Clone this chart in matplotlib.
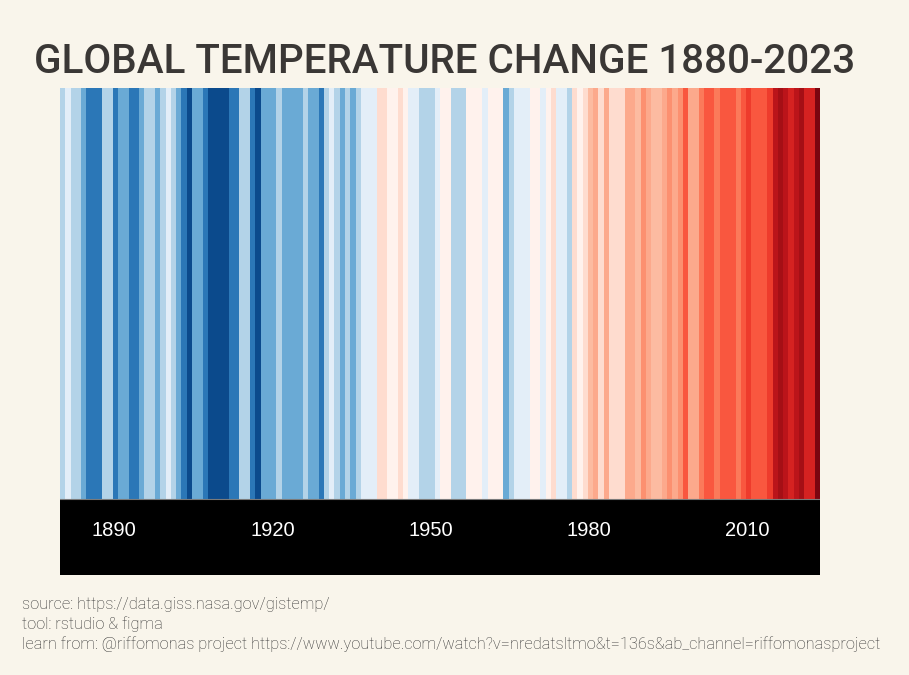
"""Warming stripes: global temperature change 1880-2023 -> out.png"""
import matplotlib
matplotlib.use("Agg")
import matplotlib.pyplot as plt
from matplotlib.colors import ListedColormap, BoundaryNorm
import numpy as np

# ── data (GISTEMP annual anomaly, °C vs 1951-1980) ───────────────────────────
YEARS = list(range(1880, 2024))
ANOMALY = [
    -0.17, -0.09, -0.11, -0.17, -0.28, -0.33, -0.31, -0.36, -0.18, -0.11,   # 1880s
    -0.35, -0.22, -0.27, -0.31, -0.31, -0.23, -0.11, -0.11, -0.27, -0.17,   # 1890s
    -0.08, -0.15, -0.28, -0.37, -0.47, -0.26, -0.22, -0.39, -0.43, -0.48,   # 1900s
    -0.43, -0.44, -0.36, -0.34, -0.15, -0.14, -0.36, -0.46, -0.29, -0.28,   # 1910s
    -0.27, -0.19, -0.29, -0.27, -0.27, -0.22, -0.11, -0.22, -0.21, -0.36,   # 1920s
    -0.16, -0.09, -0.16, -0.29, -0.13, -0.21, -0.15, -0.03, -0.01, -0.02,   # 1930s
     0.13,  0.19,  0.07,  0.09,  0.19,  0.09, -0.07, -0.03, -0.11, -0.11,   # 1940s
    -0.17, -0.07,  0.01,  0.08, -0.13, -0.14, -0.19,  0.05,  0.06,  0.03,   # 1950s
    -0.03,  0.06,  0.03,  0.05, -0.21, -0.11, -0.06, -0.02, -0.08,  0.05,   # 1960s
     0.03, -0.08,  0.01,  0.16, -0.07, -0.01, -0.11,  0.18,  0.07,  0.16,   # 1970s
     0.26,  0.32,  0.14,  0.31,  0.16,  0.12,  0.18,  0.32,  0.39,  0.27,   # 1980s
     0.45,  0.39,  0.22,  0.23,  0.31,  0.45,  0.33,  0.46,  0.61,  0.38,   # 1990s
     0.39,  0.54,  0.63,  0.62,  0.53,  0.68,  0.64,  0.66,  0.54,  0.65,   # 2000s
     0.72,  0.61,  0.65,  0.68,  0.75,  0.90,  1.01,  0.92,  0.85,  0.98,   # 2010s
     1.02,  0.85,  0.89,  1.17,                                             # 2020s
]
TICK_YEARS = [1890, 1920, 1950, 1980, 2010]

TITLE = "GLOBAL TEMPERATURE CHANGE 1880-2023"
NOTES = [
    "source: https://data.giss.nasa.gov/gistemp/",
    "tool: rstudio & figma",
    "learn from: @riffomonas project https://www.youtube.com/watch?v=nredatsltmo&t=136s&ab_channel=riffomonasproject",
]

# ── palette: one colour per 0.1 °C step ──────────────────────────────────────
C_BG = "#f9f5eb"
C_TITLE = "#3a3735"
C_NOTE = "#333333"
STEP_COLORS = [
    "#0b4a8c", "#2b77b7", "#6aaad5", "#b3d3e8", "#e3eef8",          # -0.5 .. 0.0
    "#fff2ed", "#fedccf", "#fcbba1", "#fca98c", "#fc9070",          #  0.0 .. 0.5
    "#fb7a5a", "#f9573f", "#ee3b2c", "#d52221", "#bb141a",          #  0.5 .. 1.0
    "#a50f15", "#7a0510",                                           #  1.0 .. 1.2
]
breaks = np.round(np.arange(-0.5, 1.21, 0.1), 2)
cmap = ListedColormap(STEP_COLORS)
norm = BoundaryNorm(breaks, cmap.N)

plt.rcParams["font.family"] = ["Roboto", "DejaVu Sans"]

W, H = 909, 675
fig = plt.figure(figsize=(W / 100, H / 100), dpi=100)
fig.patch.set_facecolor(C_BG)

# stripes + black year band
BAND = 76 / 411
ax = fig.add_axes([60 / W, 100 / H, 760 / W, 487 / H])
ax.set_facecolor("black")
ax.bar(YEARS, 1, width=1.0, bottom=0, color=cmap(norm(ANOMALY)), linewidth=0)
ax.axhline(0, color="#7a7a7a", lw=0.8)
ax.set_xlim(YEARS[0] - 0.5, YEARS[-1] + 0.5)
ax.set_ylim(-BAND, 1)
ax.set_xticks([])
ax.set_yticks([])
for s in ax.spines.values():
    s.set_visible(False)

for yr in TICK_YEARS:
    ax.text(yr - 0.2, -32 / 411, str(yr), color="white", fontsize=14.5,
            family=["Liberation Sans", "DejaVu Sans"],
            ha="center", va="center")

# title + notes
fig.text(445 / W, 1 - 73 / H, TITLE, color=C_TITLE, fontsize=29.1,
         fontweight="medium", ha="center", va="baseline")
for i, line in enumerate(NOTES):
    fig.text(22 / W, 1 - (609 + 20 * i) / H, line, color=C_NOTE,
             fontsize=11.8, fontweight="light", ha="left", va="baseline")

fig.savefig("out.png", dpi=100, facecolor=C_BG)
